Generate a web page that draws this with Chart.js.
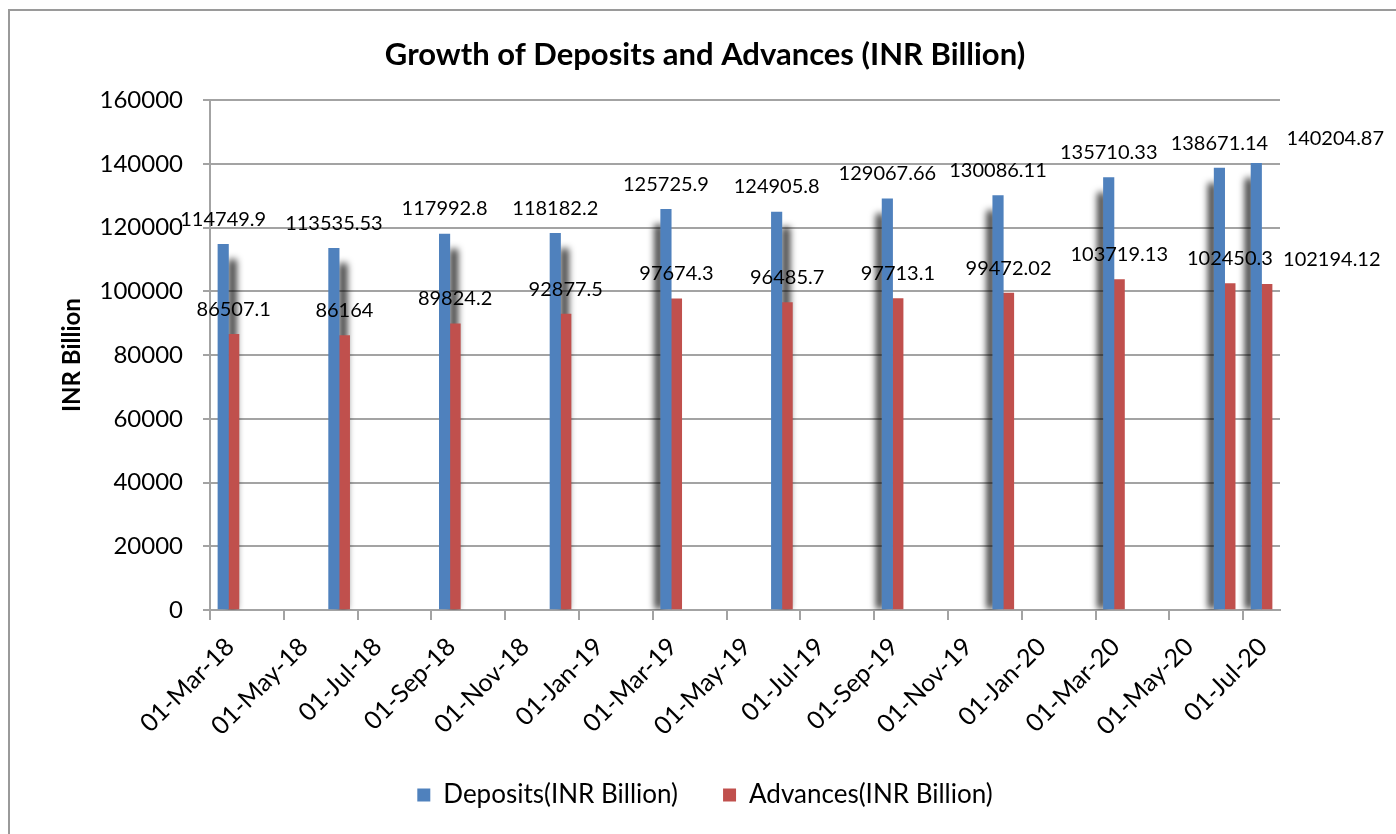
<!DOCTYPE html>
<html>
<head>
<meta charset="utf-8">
<script src="https://cdn.jsdelivr.net/npm/chart.js@4.4.1/dist/chart.umd.min.js"></script>
<style>
  html, body { margin: 0; padding: 0; background: #fff; }
  #wrap { width: 1396px; height: 834px; position: relative; }
</style>
</head>
<body>
<div id="wrap"><canvas id="growthChart"></canvas></div>
<script>
// reporting months (one bar pair each)
const periods = ["2018-03", "2018-06", "2018-09", "2018-12", "2019-03", "2019-06",
                 "2019-09", "2019-12", "2020-03", "2020-06", "2020-07"];
const deposits = [114749.9, 113535.53, 117992.8, 118182.2, 125725.9, 124905.8,
                  129067.66, 130086.11, 135710.33, 138671.14, 140204.87];
const advances = [86507.1, 86164, 89824.2, 92877.5, 97674.3, 96485.7,
                  97713.1, 99472.02, 103719.13, 102450.3, 102194.12];
const tickLabels = ["01-Mar-18", "01-May-18", "01-Jul-18", "01-Sep-18", "01-Nov-18",
                    "01-Jan-19", "01-Mar-19", "01-May-19", "01-Jul-19", "01-Sep-19",
                    "01-Nov-19", "01-Jan-20", "01-Mar-20", "01-May-20", "01-Jul-20"];
const yTicks = [0, 20000, 40000, 60000, 80000, 100000, 120000, 140000, 160000];

const monthNames = ["Jan", "Feb", "Mar", "Apr", "May", "Jun", "Jul", "Aug", "Sep", "Oct", "Nov", "Dec"];
const GRID = "#a3a3a3";

// months counted from Mar-18
function monthIndex(year, month) {
  return (year - 2018) * 12 + (month - 3);
}
function periodIndex(p) {
  const [y, m] = p.split("-").map(Number);
  return monthIndex(y, m);
}
function tickIndex(label) {
  const parts = label.split("-");
  return monthIndex(2000 + Number(parts[2]), monthNames.indexOf(parts[1]) + 1);
}
// bars sit in the middle of their month slot, like an Excel date axis
const toPoints = (vals) => vals.map((v, i) => ({ x: periodIndex(periods[i]) + 0.5, y: v }));
const lastMonth = tickIndex(tickLabels[tickLabels.length - 1]) + 1;

// excel-ish blurred shadow beside the deposit bars
const shadowSide = ["r", "r", "r", "r", "l", "r", "l", "l", "l", "l", "l"];
const barShadows = {
  id: "barShadows",
  beforeDatasetsDraw(chart) {
    const { ctx, chartArea } = chart;
    ctx.save();
    ctx.beginPath();
    ctx.rect(chartArea.left, chartArea.top, chartArea.width, chartArea.height);
    ctx.clip();
    ctx.filter = "blur(3.5px)";
    ctx.fillStyle = "rgba(0,0,0,0.8)";
    chart.getDatasetMeta(0).data.forEach((bar, i) => {
      const half = bar.width / 2;
      const w = 8;
      const x = shadowSide[i] === "r" ? bar.x + half : bar.x - half - w + 2;
      ctx.fillRect(x, bar.y + 15, w, bar.base - bar.y - 15);
    });
    ctx.restore();
  },
};

// value labels; the last pair was dragged to the right in the original
const labelShift = [{ 10: 79 }, { 10: 65 }];
const barLabels = {
  id: "barLabels",
  afterDatasetsDraw(chart) {
    const ctx = chart.ctx;
    ctx.save();
    ctx.font = "20px Lato";
    ctx.fillStyle = "#000";
    ctx.textAlign = "center";
    ctx.textBaseline = "middle";
    chart.data.datasets.forEach((ds, di) => {
      chart.getDatasetMeta(di).data.forEach((bar, i) => {
        const dx = labelShift[di][i] || 0;
        ctx.fillText(String(ds.data[i].y), bar.x + dx, bar.y - 25);
      });
    });
    ctx.restore();
  },
};

// rotated date labels hang a little below the x scale box; let them show
const labelRoom = {
  id: "labelRoom",
  afterLayout(chart) {
    chart.scales.x.bottom += 20;
  },
};

const frame = {
  id: "frame",
  afterDraw(chart) {
    const ctx = chart.ctx;
    ctx.save();
    ctx.strokeStyle = "#9a9a9a";
    ctx.lineWidth = 2;
    ctx.strokeRect(9, 10, chart.width + 20, chart.height + 20);
    ctx.restore();
  },
};

Chart.defaults.font.family = "Lato";
Chart.defaults.color = "#000";

function draw() {
  const ctx = document.getElementById("growthChart").getContext("2d");
  new Chart(ctx, {
    type: "bar",
    data: {
      datasets: [
        {
          label: "Deposits(INR Billion)",
          data: toPoints(deposits),
          backgroundColor: "#4F81BD",
          barThickness: 10.5,
        },
        {
          label: "Advances(INR Billion)",
          data: toPoints(advances),
          backgroundColor: "#C0504D",
          barThickness: 10.5,
        },
      ],
    },
    options: {
      responsive: true,
      maintainAspectRatio: false,
      animation: false,
      layout: { padding: { left: 14, right: 0, top: 0, bottom: 16 } },
      plugins: {
        title: {
          display: true,
          text: "Growth of Deposits and Advances (INR Billion)",
          font: { size: 31, weight: "bold" },
          color: "#000",
          padding: { top: 36, bottom: 27 },
        },
        legend: {
          position: "bottom",
          labels: {
            boxWidth: 13,
            boxHeight: 13,
            padding: 45,
            font: { size: 26 },
            color: "#000",
          },
        },
        tooltip: { enabled: false },
      },
      scales: {
        x: {
          type: "linear",
          min: 0,
          max: lastMonth,
          offset: false,
          afterBuildTicks(scale) {
            scale.ticks = tickLabels.map((t) => ({ value: tickIndex(t) }));
          },
          afterFit(scale) {
            scale.height = 127;
          },
          ticks: {
            font: { size: 25 },
            maxRotation: 45,
            minRotation: 45,
            labelOffset: 20,
            padding: 12,
            callback: (v, i) => tickLabels[i],
          },
          grid: {
            offset: false,
            drawOnChartArea: false,
            drawTicks: true,
            tickLength: 10,
            color: GRID,
            lineWidth: 2,
          },
          border: { color: GRID, width: 2 },
        },
        y: {
          min: yTicks[0],
          max: yTicks[yTicks.length - 1],
          afterBuildTicks(scale) {
            scale.ticks = yTicks.map((v) => ({ value: v }));
          },
          afterFit(scale) {
            scale.width = 196;
          },
          ticks: {
            font: { size: 24 },
            padding: 20,
            callback: (v) => String(v),
          },
          grid: { color: GRID, lineWidth: 2, tickLength: 7 },
          border: { color: GRID, width: 2 },
          title: {
            display: true,
            text: "INR Billion",
            font: { size: 24, weight: "bold" },
            padding: { top: 44, bottom: 0 },
          },
        },
        // empty spacer so the plot stops where the original does
        yRight: {
          position: "right",
          display: true,
          ticks: { display: false },
          grid: { display: false },
          border: { display: false },
          afterFit(scale) {
            scale.width = 116;
          },
        },
      },
    },
    plugins: [barShadows, barLabels, labelRoom, frame],
  });
}

document.fonts.load("20px Lato").then(draw, draw);
</script>
</body>
</html>
